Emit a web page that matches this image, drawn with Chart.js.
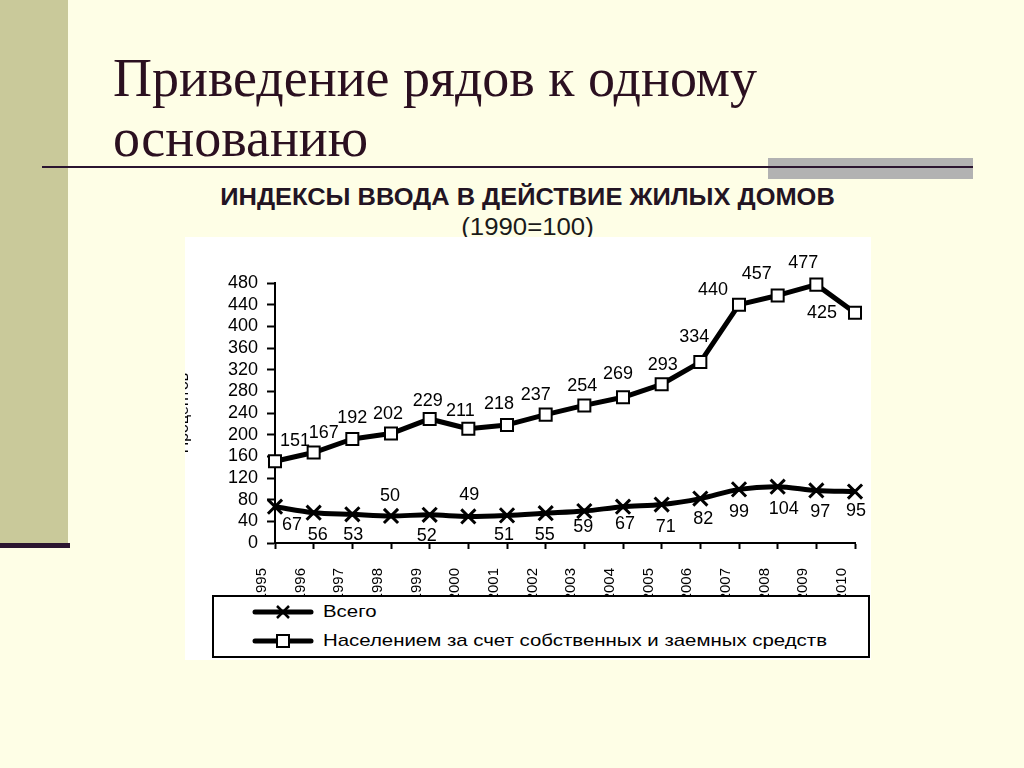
<!DOCTYPE html>
<html lang="ru">
<head>
<meta charset="utf-8">
<title>Индексы ввода в действие жилых домов</title>
<script src="https://cdn.jsdelivr.net/npm/chart.js@4.4.1/dist/chart.umd.min.js"></script>
<style>
    html, body { margin: 0; padding: 0; }
    body {
        position: relative;
        width: 1024px;
        height: 768px;
        overflow: hidden;
        background: #fefee6;
        font-family: "Liberation Sans", Arial, sans-serif;
    }
    .side-bar { position: absolute; left: 0; top: 0; width: 68px; height: 543px; background: #c9c99a; }
    .side-line { position: absolute; left: 0; top: 543px; width: 70px; height: 5px; background: #2b1530; }
    .slide-title {
        position: absolute; left: 113px; top: 48px; margin: 0;
        font-family: "Liberation Serif", "Times New Roman", serif;
        font-weight: normal; font-size: 54px; line-height: 60px; color: #2b1020;
    }
    .gray-bar { position: absolute; left: 768px; top: 158px; width: 205px; height: 21px; background: #b2b2b2; }
    .rule { position: absolute; left: 42px; top: 166px; width: 931px; height: 2px; background: #2b1530; }
    .chart-title, .chart-subtitle {
        position: absolute; left: 0; width: 1055px; text-align: center; color: #231423;
        transform-origin: 527.5px center;
    }
    .chart-title { top: 184px; font-size: 24px; line-height: 26px; font-weight: bold; transform: scaleX(1.06); }
    .chart-subtitle { top: 214px; font-size: 23px; line-height: 26px; color: #1a1a1a; transform: scaleX(1.12); }
    .chart-box { position: absolute; left: 185px; top: 237px; width: 686px; height: 423px; background: #fff; }
    .chart-box canvas { position: absolute; left: 0; top: 0; }
    .legend {
        position: absolute; left: 212px; top: 595px; width: 654px; height: 59px;
        border: 2px solid #000; background: #fff;
    }
    .legend-row { position: absolute; left: 0; height: 22px; width: 100%; }
    .legend-row canvas { position: absolute; left: 38px; top: 1px; }
    .legend-row span {
        position: absolute; left: 109px; top: 0; line-height: 22px; font-size: 17px; color: #000;
        white-space: nowrap; transform: scaleX(1.2); transform-origin: left center;
    }
</style>
</head>
<body>
<div class="side-bar"></div>
<div class="side-line"></div>
<h1 class="slide-title">Приведение рядов к одному<br>основанию</h1>
<div class="gray-bar"></div>
<div class="rule"></div>
<div class="chart-title">ИНДЕКСЫ ВВОДА В ДЕЙСТВИЕ ЖИЛЫХ ДОМОВ</div>
<div class="chart-subtitle">(1990=100)</div>
<div class="chart-box">
    <canvas id="index-chart" width="686" height="423"></canvas>
</div>
<div class="legend" id="legend"></div>

<script>
// Chart data
const years = ['1995', '1996', '1997', '1998', '1999', '2000', '2001', '2002',
               '2003', '2004', '2005', '2006', '2007', '2008', '2009', '2010'];
const totalName = 'Всего';
const totalValues = [67, 56, 53, 50, 52, 49, 51, 55, 59, 67, 71, 82, 99, 104, 97, 95];
const privateName = 'Населением за счет собственных и заемных средств';
const privateValues = [151, 167, 192, 202, 229, 211, 218, 237, 254, 269, 293, 334, 440, 457, 477, 425];
const yAxisName = 'Процентов';
const yMin = 0;
const yMax = 480;
const yStep = 40;

// Where each value label sits relative to its point, in pixels
const totalLabelOffsets = [[17, 18], [4, 22], [1, 21], [-1, -20], [-3, 21], [1, -21], [-3, 20], [-1, 22],
                           [-1, 16], [2, 17], [4, 22], [3, 20], [0, 23], [6, 22], [4, 22], [1, 19]];
const privateLabelOffsets = [[20, -20], [10, -20], [0, -21], [-3, -20], [-2, -18], [-8, -18], [-8, -21], [-10, -20],
                             [-2, -19], [-5, -23], [1, -19], [-6, -25], [-26, -15], [-21, -21], [-13, -22], [-33, 0]];

const FONT = '"Liberation Sans", Arial, sans-serif';
Chart.defaults.font.family = FONT;
Chart.defaults.color = '#000';

// Value labels next to every point
const valueLabels = {
    id: 'valueLabels',
    afterDatasetsDraw(chart) {
        const ctx = chart.ctx;
        ctx.save();
        ctx.font = '18px ' + FONT;
        ctx.fillStyle = '#000';
        ctx.textAlign = 'center';
        ctx.textBaseline = 'middle';
        chart.data.datasets.forEach((dataset, i) => {
            const meta = chart.getDatasetMeta(i);
            meta.data.forEach((point, j) => {
                const [dx, dy] = dataset.labelOffsets[j];
                ctx.fillText(String(dataset.data[j]), point.x + dx, point.y + dy);
            });
        });
        ctx.restore();
    }
};

// Build the chart
function initializeChart() {
    const canvas = document.getElementById('index-chart');
    return new Chart(canvas, {
        type: 'line',
        data: {
            labels: years,
            datasets: [{
                label: totalName,
                data: totalValues,
                labelOffsets: totalLabelOffsets,
                marker: 'crossRot',
                borderColor: '#000',
                borderWidth: 5,
                borderJoinStyle: 'round',
                tension: 0.3,
                pointStyle: 'crossRot',
                pointRadius: 10,
                pointBorderWidth: 3,
                pointBorderColor: '#000',
                pointBackgroundColor: '#000',
                clip: false
            }, {
                label: privateName,
                data: privateValues,
                labelOffsets: privateLabelOffsets,
                marker: 'rect',
                borderColor: '#000',
                borderWidth: 5,
                borderJoinStyle: 'round',
                tension: 0,
                pointStyle: 'rect',
                pointRadius: 8.5,
                pointBorderWidth: 2,
                pointBorderColor: '#000',
                pointBackgroundColor: '#fff',
                clip: false
            }]
        },
        options: {
            responsive: false,
            animation: false,
            devicePixelRatio: 1,
            layout: { padding: { top: 46, right: 16, bottom: 0, left: 0 } },
            plugins: {
                legend: { display: false },
                tooltip: { enabled: false }
            },
            scales: {
                x: {
                    offset: false,
                    grid: { drawOnChartArea: false, tickLength: 6, tickWidth: 2, tickColor: '#000' },
                    border: { display: true, color: '#000', width: 2 },
                    ticks: {
                        autoSkip: false,
                        minRotation: 90,
                        maxRotation: 90,
                        padding: 19,
                        labelOffset: -13,
                        font: { size: 15 }
                    },
                    afterFit: scale => {
                        scale.height = 117;
                        scale.paddingLeft = 0;
                        scale.paddingRight = 0;
                    }
                },
                y: {
                    min: yMin,
                    max: yMax,
                    grid: { drawOnChartArea: false, tickLength: 8, tickWidth: 2, tickColor: '#000' },
                    border: { display: true, color: '#000', width: 2 },
                    ticks: { stepSize: yStep, autoSkip: false, padding: 9, font: { size: 18 } },
                    title: {
                        display: true,
                        text: yAxisName,
                        font: { size: 16 },
                        padding: { top: -11, bottom: 0 }
                    },
                    afterFit: scale => { scale.width = 90; }
                }
            }
        },
        plugins: [valueLabels]
    });
}

// Legend icon: line with its marker
function drawLegendIcon(canvas, marker) {
    const ctx = canvas.getContext('2d');
    const cx = canvas.width / 2;
    const cy = canvas.height / 2;
    ctx.strokeStyle = '#000';
    ctx.lineCap = 'round';
    ctx.lineWidth = 5;
    ctx.beginPath();
    ctx.moveTo(3, cy);
    ctx.lineTo(canvas.width - 3, cy);
    ctx.stroke();
    if (marker === 'crossRot') {
        ctx.lineWidth = 2.5;
        ctx.lineCap = 'butt';
        ctx.beginPath();
        ctx.moveTo(cx - 6, cy - 6);
        ctx.lineTo(cx + 6, cy + 6);
        ctx.moveTo(cx + 6, cy - 6);
        ctx.lineTo(cx - 6, cy + 6);
        ctx.stroke();
    } else {
        ctx.lineWidth = 2;
        ctx.fillStyle = '#fff';
        ctx.fillRect(cx - 6, cy - 6, 12, 12);
        ctx.strokeRect(cx - 6, cy - 6, 12, 12);
    }
}

// HTML legend built from the datasets
function buildLegend(chart) {
    const legend = document.getElementById('legend');
    const rowCenters = [15, 44];
    chart.data.datasets.forEach((dataset, i) => {
        const row = document.createElement('div');
        row.className = 'legend-row';
        row.style.top = (rowCenters[i] - 11) + 'px';
        const icon = document.createElement('canvas');
        icon.width = 62;
        icon.height = 20;
        drawLegendIcon(icon, dataset.marker);
        const text = document.createElement('span');
        text.textContent = dataset.label;
        row.appendChild(icon);
        row.appendChild(text);
        legend.appendChild(row);
    });
}

const chart = initializeChart();
buildLegend(chart);
</script>
</body>
</html>
